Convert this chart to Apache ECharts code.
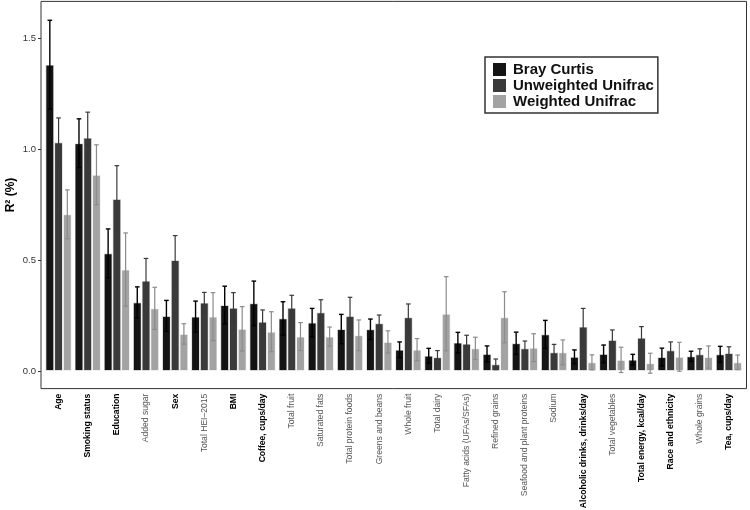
<!DOCTYPE html>
<html>
<head>
<meta charset="utf-8">
<script src="https://cdn.jsdelivr.net/npm/echarts@6/dist/echarts.min.js"></script>
<style>
  html, body { margin: 0; padding: 0; background: #fff; }
  #chart { width: 750px; height: 510px; }
</style>
</head>
<body>
<div id="chart"></div>
<script>
// categories, left to right
const categories = [
  'Age', 'Smoking status', 'Education', 'Added sugar', 'Sex', 'Total HEI\u20132015', 'BMI',
  'Coffee, cups/day', 'Total fruit', 'Saturated fats', 'Total protein foods', 'Greens and beans',
  'Whole fruit', 'Total dairy', 'Fatty acids (UFAs/SFAs)', 'Refined grains',
  'Seafood and plant proteins', 'Sodium', 'Alcoholic drinks, drinks/day', 'Total vegetables',
  'Total energy, kcal/day', 'Race and ethnicity', 'Whole grains', 'Tea, cups/day'
];
// labels printed in bold
const boldLabels = [
  'Age', 'Smoking status', 'Education', 'Sex', 'BMI', 'Coffee, cups/day',
  'Alcoholic drinks, drinks/day', 'Total energy, kcal/day', 'Race and ethnicity', 'Tea, cups/day'
];
const seriesNames = ['Bray Curtis', 'Unweighted Unifrac', 'Weighted Unifrac'];

// R2 (%) and error half-widths
const brayCurtis = [1.38, 1.026, 0.53, 0.309, 0.248, 0.245, 0.297, 0.305, 0.237, 0.218, 0.189, 0.188,
  0.096, 0.069, 0.128, 0.077, 0.125, 0.165, 0.064, 0.077, 0.051, 0.063, 0.066, 0.075];
const brayCurtisErr = [0.20, 0.11, 0.11, 0.07, 0.07, 0.07, 0.085, 0.10, 0.075, 0.064, 0.066, 0.046,
  0.035, 0.033, 0.046, 0.036, 0.05, 0.063, 0.031, 0.04, 0.024, 0.04, 0.023, 0.036];
const unweighted = [1.03, 1.051, 0.775, 0.407, 0.50, 0.308, 0.285, 0.222, 0.285, 0.264, 0.248, 0.215,
  0.242, 0.062, 0.123, 0.030, 0.102, 0.084, 0.20, 0.14, 0.15, 0.093, 0.075, 0.081];
const unweightedErr = [0.11, 0.115, 0.15, 0.10, 0.11, 0.046, 0.068, 0.053, 0.056, 0.057, 0.084, 0.037,
  0.06, 0.03, 0.038, 0.024, 0.033, 0.036, 0.082, 0.045, 0.05, 0.038, 0.025, 0.028];
const weighted = [0.706, 0.884, 0.457, 0.282, 0.167, 0.245, 0.19, 0.177, 0.155, 0.155, 0.161, 0.131,
  0.096, 0.258, 0.102, 0.242, 0.105, 0.084, 0.039, 0.05, 0.035, 0.064, 0.063, 0.039];
const weightedErr = [0.11, 0.135, 0.165, 0.095, 0.046, 0.108, 0.10, 0.09, 0.063, 0.043, 0.069, 0.05,
  0.05, 0.167, 0.05, 0.115, 0.063, 0.056, 0.034, 0.057, 0.045, 0.065, 0.05, 0.033];

const yTicks = [0, 0.5, 1.0, 1.5];

const fills = ['#141414', '#3a3a3a', '#a3a3a3'];
const errColors = ['#000000', '#383838', '#8c8c8c'];

function barSeries(name, vals, k) {
  return {
    name: name,
    type: 'bar',
    data: vals,
    barGap: '0%',
    barCategoryGap: '10%',
    itemStyle: { color: fills[k], borderColor: '#fff', borderWidth: 0.8 }
  };
}

function errSeries(name, vals, errs, k) {
  return {
    name: name + ' err',
    type: 'custom',
    z: 5,
    data: vals.map((v, i) => [i, v, errs[i]]),
    encode: { x: 0, y: 1 },
    renderItem: function (params, api) {
      const i = api.value(0), v = api.value(1), e = api.value(2);
      const bw = api.size([1, 0])[0] * 0.9 / 3;
      const cx = api.coord([i, 0])[0] + (k - 1) * bw;
      const yt = api.coord([i, v + e])[1];
      const yb = api.coord([i, v - e])[1];
      const h = 2.3;
      const st = { stroke: errColors[k], lineWidth: k === 0 ? 1.4 : 1.2 };
      return {
        type: 'group',
        children: [
          { type: 'line', shape: { x1: cx, y1: yt, x2: cx, y2: yb }, style: st },
          { type: 'line', shape: { x1: cx - h, y1: yt, x2: cx + h, y2: yt }, style: st },
          { type: 'line', shape: { x1: cx - h, y1: yb, x2: cx + h, y2: yb }, style: st }
        ]
      };
    }
  };
}

const chart = echarts.init(document.getElementById('chart'));
chart.setOption({
  animation: false,
  backgroundColor: '#fff',
  textStyle: { fontFamily: 'Liberation Sans, Arial, sans-serif' },
  grid: { left: 44, right: 6.5, top: 1.4, bottom: 121.4, containLabel: false, outerBoundsMode: 'none' },
  legend: {
    data: seriesNames,
    orient: 'vertical',
    left: 485,
    top: 57,
    icon: 'rect',
    itemWidth: 13,
    itemHeight: 13,
    itemGap: 1,
    padding: [5, 4, 4, 8],
    borderColor: '#333',
    borderWidth: 1.5,
    itemStyle: { borderWidth: 0 },
    textStyle: { fontSize: 15, fontWeight: 'bold', color: '#111', padding: [0, 0, 0, 2] }
  },
  xAxis: {
    type: 'category',
    data: categories.map(c => ({
      value: c,
      textStyle: boldLabels.includes(c)
        ? { fontWeight: 'bold', color: '#000' }
        : { fontWeight: 'normal', color: '#555' }
    })),
    axisLine: { show: false },
    axisTick: { alignWithLabel: true, length: 3, lineStyle: { color: '#333' } },
    axisLabel: { rotate: 90, interval: 0, fontSize: 8.6, margin: 5 }
  },
  yAxis: {
    type: 'value',
    min: -0.0793,
    max: 1.665,
    offset: 3,
    name: 'R\u00b2 (%)',
    nameLocation: 'middle',
    nameGap: 24,
    nameMoveOverlap: false,
    nameTextStyle: { fontSize: 12, fontWeight: 'bold', color: '#000' },
    splitLine: { show: false },
    axisLine: { show: false },
    axisTick: { show: true, length: 3, customValues: yTicks, lineStyle: { color: '#333' } },
    axisLabel: {
      customValues: yTicks,
      fontSize: 9.5,
      color: '#333',
      margin: 5,
      formatter: v => v.toFixed(1)
    }
  },
  graphic: [{
    type: 'rect',
    shape: { x: 41, y: 1.4, width: 705.5, height: 387.2 },
    style: { fill: 'none', stroke: '#333', lineWidth: 1 },
    z: 10,
    silent: true
  }],
  series: [
    barSeries(seriesNames[0], brayCurtis, 0),
    barSeries(seriesNames[1], unweighted, 1),
    barSeries(seriesNames[2], weighted, 2),
    errSeries(seriesNames[0], brayCurtis, brayCurtisErr, 0),
    errSeries(seriesNames[1], unweighted, unweightedErr, 1),
    errSeries(seriesNames[2], weighted, weightedErr, 2)
  ]
});
</script>
</body>
</html>
